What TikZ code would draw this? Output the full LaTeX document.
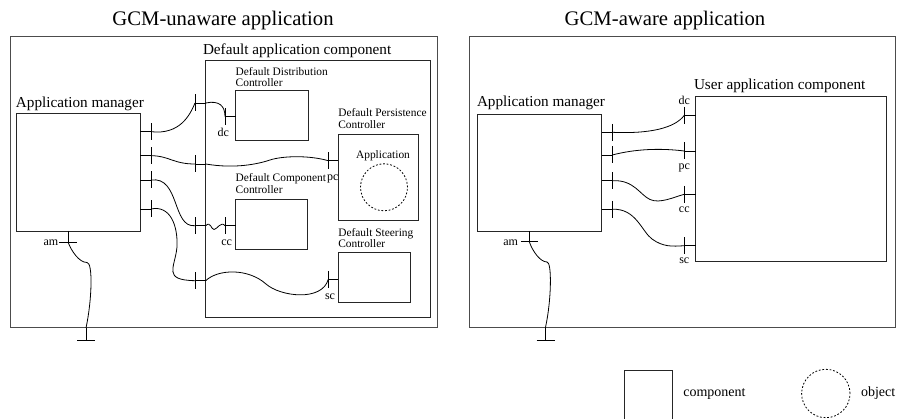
\documentclass[tikz,border=0pt]{standalone}
\usepackage{fontspec}
\setmainfont{Liberation Serif}
\newcommand\fT{\fontsize{20.7}{24}\selectfont}
\newcommand\fM{\fontsize{15.2}{18}\selectfont}
\newcommand\fS{\fontsize{11.4}{11.5}\selectfont}
\newcommand\fP{\fontsize{12}{14}\selectfont}
\newcommand\fG{\fontsize{14}{16}\selectfont}
\begin{document}
\begin{tikzpicture}[x=1pt,y=-1pt,
  comp/.style={draw=black!85, line width=0.9pt, inner sep=0pt, outer sep=0pt, anchor=north west},
  frame/.style={comp, draw=black!70, line width=1pt},
  wire/.style={line width=0.8pt},
  obj/.style={draw, circle, inner sep=0pt, dash pattern=on 1.8pt off 1.8pt, line width=0.8pt},
  txt/.style={inner sep=0pt, outer sep=0pt},
  ctl/.style={txt, font=\fS, align=left, anchor=north west}]
\clip (0,0) rectangle (899,419);

% ---------------- titles
\node[txt, font=\fT, anchor=base] (tL) at (223,26) {GCM-unaware application};
\node[txt, font=\fT, anchor=base] (tR) at (665,26) {GCM-aware application};

% ---------------- left panel
\node[frame, minimum width=427pt, minimum height=291pt] (frameL) at (10,37) {};
\node[comp, minimum width=124.3pt, minimum height=117.7pt] (amL) at (16,113.3) {};
\node[txt, font=\fM, anchor=base west] (amLt) at (16,108) {Application manager};
\node[comp, minimum width=225pt, minimum height=256.6pt] (dacL) at (205.7,60.7) {};
\node[txt, font=\fM, anchor=base west] (dacLt) at (203,55) {Default application component};

\node[comp, minimum width=72.6pt, minimum height=50pt] (ddc) at (235.7,90.7) {};
\node[ctl] (ddct) at (235.7,67.2) {Default Distribution\\Controller};
\node[comp, minimum width=80pt, minimum height=85.7pt] (dpc) at (338.3,134.3) {};
\node[ctl] (dpct) at (338.3,108.9) {Default Persistence\\Controller};
\node[comp, minimum width=72pt, minimum height=50pt] (dcc) at (235.7,199) {};
\node[ctl] (dcct) at (235.7,173.7) {Default Component\\Controller};
\node[comp, minimum width=72.4pt, minimum height=50pt] (dsc) at (338.3,252.7) {};
\node[ctl] (dsct) at (338.3,228.2) {Default Steering\\Controller};

\node[txt, font=\fS, anchor=base] (appt) at (383,159) {Application};
\node[obj, minimum size=47pt] (appo) at (384,187.3) {};

% port positions
\coordinate (amL1) at (151,131.7);
\coordinate (amL2) at (151,155.7);
\coordinate (amL3) at (151,180);
\coordinate (amL4) at (151,209);
\coordinate (dL1) at (195,103);
\coordinate (dL2) at (195,164);
\coordinate (dL3) at (195,225.7);
\coordinate (dL4) at (195,280.7);
\coordinate (dcT) at (225,116.5);
\coordinate (pcT) at (328.3,160.7);
\coordinate (ccT) at (225,225.7);
\coordinate (scT) at (328.3,279.3);
\coordinate (amLb) at (68.3,242.7);
\coordinate (exLt) at (86,340.7);
\coordinate (exL) at (frameL.south -| exLt);

\foreach \p in {amL1,amL2,amL3,amL4,dL1,dL2,dL3,dL4,dcT,pcT,ccT,scT}
  \draw[wire] ([yshift=8.5pt]\p) -- ([yshift=-8.5pt]\p);
\foreach \p in {amL1,amL2,amL3,amL4} \draw[wire] (amL.east |- \p) -- (\p);
\foreach \p in {dL1,dL2,dL3,dL4} \draw[wire] (\p) -- (dacL.west |- \p);
\draw[wire] (dcT) -- (ddc.west |- dcT);
\draw[wire] (pcT) -- (dpc.west |- pcT);
\draw[wire] (ccT) -- (dcc.west |- ccT);
\draw[wire] (scT) -- (dsc.west |- scT);

\node[txt, font=\fP, anchor=base east] (dcl) at (229,137) {dc};
\node[txt, font=\fP, anchor=base west] (pcl) at (327,181) {pc};
\node[txt, font=\fP, anchor=base east] (ccl) at (232,245.7) {cc};
\node[txt, font=\fP, anchor=base west] (scl) at (325,300) {sc};

% connectors
\draw[wire] (amL1) .. controls +(29,3.3) and +(-5,12) .. (dL1);
\draw[wire] (dacL.west |- dL1) .. controls +(14,-3) and +(0,-10) .. (dcT);

\coordinate (wL2) at (270,160);
\draw[wire] (amL2) .. controls +(18,0) and +(-22,0) .. (dL2);
\draw[wire] (dacL.west |- dL2) .. controls +(29.3,5) and +(-12,4) .. (wL2)
  .. controls +(12,-4) and +(-20,-5.7) .. (pcT);

\coordinate (wL3) at (214,229.5);
\draw[wire] (amL3) .. controls +(29,-4) and +(-23,2.3) .. (dL3);
\draw[wire] (dacL.west |- dL3) .. controls +(5,-5) and +(-3,0) .. (wL3)
  .. controls +(3,0) and +(-4,-5) .. (ccT);

\coordinate (wL4) at (177,247);
\coordinate (wL4b) at (266,284);
\draw[wire] (amL4) .. controls +(19,-4) and +(1,-22) .. (wL4)
  .. controls +(-2,21) and +(-33,-0.7) .. (dL4);
\draw[wire] (dacL.west |- dL4) .. controls +(12.3,-11.7) and +(-18,-16) .. (wL4b)
  .. controls +(14,12.5) and +(-6.3,22.7) .. (scT);

% am port and export
\draw[wire] (amL.south -| amLb) -- (amLb);
\draw[wire] ([xshift=-9pt]amLb) -- ([xshift=9pt]amLb);
\node[txt, font=\fP, anchor=base east] (aml) at (58.3,245.5) {am};
\coordinate (wLa) at (87,262.5);
\draw[wire] (amLb) .. controls +(3,8) and +(-8,0) .. (wLa)
  .. controls +(6,0) and +(6,-28) .. (exL);
\draw[wire] (exL) -- (exLt);
\draw[wire] ([xshift=-9pt]exLt) -- ([xshift=9pt]exLt);

% ---------------- right panel
\node[frame, minimum width=425.7pt, minimum height=290.3pt] (frameR) at (469.3,37) {};
\node[comp, minimum width=124.4pt, minimum height=117pt] (amR) at (477.3,114) {};
\node[txt, font=\fM, anchor=base west] (amRt) at (477,106.7) {Application manager};
\node[comp, minimum width=191pt, minimum height=165.7pt] (uac) at (695.7,96) {};
\node[txt, font=\fM, anchor=base west] (uact) at (694,89.3) {User application component};

\coordinate (amR1) at (612.3,132.3);
\coordinate (amR2) at (612.3,155);
\coordinate (amR3) at (612.3,180.7);
\coordinate (amR4) at (612.3,209.3);
\coordinate (uR1) at (684.3,115.3);
\coordinate (uR2) at (684.3,151);
\coordinate (uR3) at (684.3,194.3);
\coordinate (uR4) at (684.3,245.7);
\coordinate (amRb) at (529.3,241.7);
\coordinate (exRt) at (545.5,340);
\coordinate (exR) at (frameR.south -| exRt);

\foreach \p in {amR1,amR2,amR3,amR4,uR1,uR2,uR3,uR4}
  \draw[wire] ([yshift=8.5pt]\p) -- ([yshift=-8.5pt]\p);
\foreach \p in {amR1,amR2,amR3,amR4} \draw[wire] (amR.east |- \p) -- (\p);
\foreach \p in {uR1,uR2,uR3,uR4} \draw[wire] (\p) -- (uac.west |- \p);

\node[txt, font=\fP, anchor=base] (dcr) at (684.3,105) {dc};
\node[txt, font=\fP, anchor=base] (pcr) at (684.3,170) {pc};
\node[txt, font=\fP, anchor=base] (ccr) at (684.3,212.7) {cc};
\node[txt, font=\fP, anchor=base] (scr) at (684.3,263.3) {sc};

\draw[wire] (amR1) .. controls +(37.7,1.7) and +(-9.3,12.7) .. (uR1);
\draw[wire] (amR2) .. controls +(22.7,-6) and +(-24.3,-3) .. (uR2);
\coordinate (wR3) at (650,199.5);
\draw[wire] (amR3) .. controls +(21.7,-1.2) and +(-10,-4.5) .. (wR3)
  .. controls +(10,4.5) and +(-10.3,2.7) .. (uR3);
\coordinate (wR4) at (652,239);
\draw[wire] (amR4) .. controls +(23.7,-1.3) and +(-10,-7) .. (wR4)
  .. controls +(11,8) and +(-12.3,0.8) .. (uR4);

\draw[wire] (amR.south -| amRb) -- (amRb);
\draw[wire] ([xshift=-8.5pt]amRb) -- ([xshift=8.5pt]amRb);
\node[txt, font=\fP, anchor=base east] (amrl) at (518,245.5) {am};
\coordinate (wRa) at (547,262);
\draw[wire] (amRb) .. controls +(3,9) and +(-7,0) .. (wRa)
  .. controls +(5,0) and +(6,-27.3) .. (exR);
\draw[wire] (exR) -- (exRt);
\draw[wire] ([xshift=-9pt]exRt) -- ([xshift=9pt]exRt);

% ---------------- legend
\node[comp, minimum width=48.3pt, minimum height=60pt] (legc) at (624,370) {};
\node[txt, font=\fG, anchor=base west] (legct) at (683.3,396.5) {component};
\node[obj, minimum size=48.4pt] (lego) at (825.8,393.5) {};
\node[txt, font=\fG, anchor=base west] (legot) at (861,396.5) {object};
\end{tikzpicture}
\end{document}
